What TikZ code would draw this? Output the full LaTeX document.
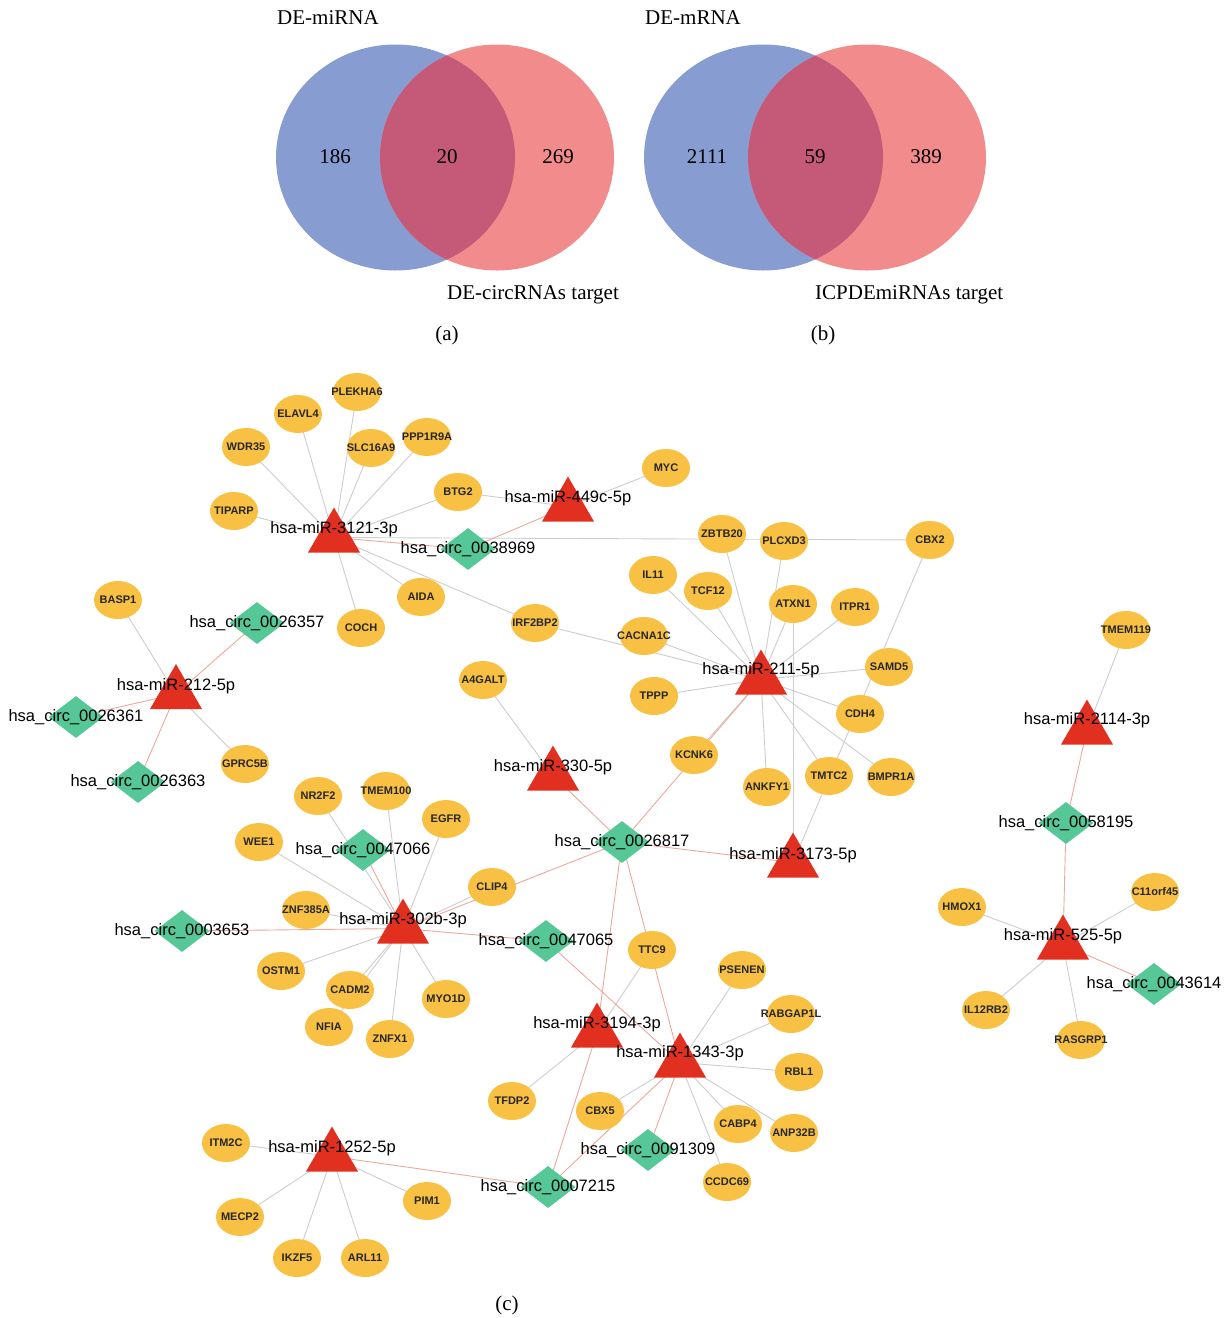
\documentclass[tikz,border=0pt]{standalone}
\usepackage{fontspec}
\setmainfont{Liberation Serif}
\setsansfont{Liberation Sans}
\usetikzlibrary{shapes.geometric,backgrounds}

\definecolor{vennblue}{RGB}{135,156,209}
\definecolor{vennred}{RGB}{242,139,139}
\definecolor{vennmix}{RGB}{196,89,120}
\definecolor{genefill}{RGB}{248,193,68}
\definecolor{circfill}{RGB}{86,199,150}
\definecolor{mirfill}{RGB}{226,48,32}
\definecolor{grayedge}{RGB}{205,205,205}
\definecolor{rededge}{RGB}{234,168,158}

\tikzset{
  genetext/.style={font=\sffamily\bfseries\fontsize{11}{12}\selectfont,
    text=black!85, inner sep=0pt},
  gene/.style={ellipse, fill=genefill, minimum width=48pt, minimum height=38pt,
    inner sep=0pt, label={[genetext]center:#1}},
  mirna/.style={regular polygon, regular polygon sides=3, fill=mirfill,
    minimum size=60pt, inner sep=0pt},
  circrna/.style={diamond, fill=circfill, minimum width=55pt, minimum height=42pt,
    inner sep=0pt},
  netlabel/.style={font=\sffamily\fontsize{16.5}{18}\selectfont, inner sep=0pt},
  tie/.style={draw=grayedge, line width=0.9pt},
  sponge/.style={draw=rededge, line width=0.9pt},
  venntext/.style={font=\fontsize{21}{24}\selectfont, inner sep=0pt}
}

\begin{document}
\begin{tikzpicture}[x=1pt, y=-1pt]
  \useasboundingbox (0,0) rectangle (1227,1318);

  % (a) and (b): Venn diagrams
  \fill[vennblue] (395.5,157.5) ellipse [x radius=119.5, y radius=113];
  \fill[vennred]  (497,157.5)   ellipse [x radius=117,   y radius=113];
  \begin{scope}
    \clip (395.5,157.5) ellipse [x radius=119.5, y radius=113];
    \fill[vennmix] (497,157.5) ellipse [x radius=117, y radius=113];
  \end{scope}
  \fill[vennblue] (763.5,157.5) ellipse [x radius=119.5, y radius=113];
  \fill[vennred]  (867,157.5)   ellipse [x radius=119,   y radius=113];
  \begin{scope}
    \clip (763.5,157.5) ellipse [x radius=119.5, y radius=113];
    \fill[vennmix] (867,157.5) ellipse [x radius=119, y radius=113];
  \end{scope}

  \node[venntext, anchor=west] (demirna) at (277,18)  {DE-miRNA};
  \node[venntext]              (a186)    at (335,157) {186};
  \node[venntext]              (a20)     at (447,157) {20};
  \node[venntext]              (a269)    at (558,157) {269};
  \node[venntext, anchor=west] (decirc)  at (447,295) {DE-circRNAs target};
  \node[venntext]              (capa)    at (447,335) {(a)};

  \node[venntext, anchor=west] (demrna)  at (645,18)  {DE-mRNA};
  \node[venntext]              (b2111)   at (707,157) {2111};
  \node[venntext]              (b59)     at (815,157) {59};
  \node[venntext]              (b389)    at (926,157) {389};
  \node[venntext, anchor=west] (icpde)   at (815,295) {ICPDEmiRNAs target};
  \node[venntext]              (capb)    at (823,335) {(b)};

  % (c): circRNA--miRNA--mRNA network
  % mRNAs
  \node[gene=PLEKHA6]  (plekha6)  at (357,392)  {};
  \node[gene=ELAVL4]   (elavl4)   at (298,414)  {};
  \node[gene=WDR35]    (wdr35)    at (246,447)  {};
  \node[gene=SLC16A9]  (slc16a9)  at (371,448)  {};
  \node[gene=PPP1R9A]  (ppp1r9a)  at (427,437)  {};
  \node[gene=TIPARP]   (tiparp)   at (234,511)  {};
  \node[gene=BTG2]     (btg2)     at (458,492)  {};
  \node[gene=MYC]      (myc)      at (666,468)  {};
  \node[gene=AIDA]     (aida)     at (421,597)  {};
  \node[gene=COCH]     (coch)     at (361,628)  {};
  \node[gene=IRF2BP2]  (irf2bp2)  at (535,623)  {};
  \node[gene=ZBTB20]   (zbtb20)   at (722,534)  {};
  \node[gene=PLCXD3]   (plcxd3)   at (784,541)  {};
  \node[gene=CBX2]     (cbx2)     at (930,540)  {};
  \node[gene=IL11]     (il11)     at (653,575)  {};
  \node[gene=TCF12]    (tcf12)    at (708,591)  {};
  \node[gene=ATXN1]    (atxn1)    at (793,604)  {};
  \node[gene=ITPR1]    (itpr1)    at (855,607)  {};
  \node[gene=CACNA1C]  (cacna1c)  at (644,636)  {};
  \node[gene=SAMD5]    (samd5)    at (889,667)  {};
  \node[gene=TPPP]     (tppp)     at (654,696)  {};
  \node[gene=CDH4]     (cdh4)     at (860,714)  {};
  \node[gene=KCNK6]    (kcnk6)    at (694,755)  {};
  \node[gene=ANKFY1]   (ankfy1)   at (767,787)  {};
  \node[gene=TMTC2]    (tmtc2)    at (829,776)  {};
  \node[gene=BMPR1A]   (bmpr1a)   at (891,777)  {};
  \node[gene=A4GALT]   (a4galt)   at (483,680)  {};
  \node[gene=BASP1]    (basp1)    at (118,600)  {};
  \node[gene=GPRC5B]   (gprc5b)   at (245,764)  {};
  \node[gene=TMEM119]  (tmem119)  at (1126,630) {};
  \node[gene=NR2F2]    (nr2f2)    at (318,796)  {};
  \node[gene=TMEM100]  (tmem100)  at (386,791)  {};
  \node[gene=EGFR]     (egfr)     at (446,819)  {};
  \node[gene=WEE1]     (wee1)     at (259,842)  {};
  \node[gene=CLIP4]    (clip4)    at (492,887)  {};
  \node[gene=ZNF385A]  (znf385a)  at (306,910)  {};
  \node[gene=OSTM1]    (ostm1)    at (281,971)  {};
  \node[gene=CADM2]    (cadm2)    at (350,990)  {};
  \node[gene=NFIA]     (nfia)     at (329,1027) {};
  \node[gene=ZNFX1]    (znfx1)    at (390,1039) {};
  \node[gene=MYO1D]    (myo1d)    at (446,999)  {};
  \node[gene=TTC9]     (ttc9)     at (652,950)  {};
  \node[gene=PSENEN]   (psenen)   at (742,970)  {};
  \node[gene=RABGAP1L] (rabgap1l) at (791,1014) {};
  \node[gene=RBL1]     (rbl1)     at (799,1072) {};
  \node[gene=TFDP2]    (tfdp2)    at (512,1101) {};
  \node[gene=CBX5]     (cbx5)     at (600,1111) {};
  \node[gene=CABP4]    (cabp4)    at (738,1124) {};
  \node[gene=ANP32B]   (anp32b)   at (794,1133) {};
  \node[gene=CCDC69]   (ccdc69)   at (727,1182) {};
  \node[gene=ITM2C]    (itm2c)    at (226,1143) {};
  \node[gene=MECP2]    (mecp2)    at (240,1217) {};
  \node[gene=IKZF5]    (ikzf5)    at (297,1258) {};
  \node[gene=ARL11]    (arl11)    at (365,1258) {};
  \node[gene=PIM1]     (pim1)     at (427,1201) {};
  \node[gene=HMOX1]    (hmox1)    at (962,907)  {};
  \node[gene=C11orf45] (c11orf45) at (1155,892) {};
  \node[gene=IL12RB2]  (il12rb2)  at (986,1010) {};
  \node[gene=RASGRP1]  (rasgrp1)  at (1081,1040) {};

  % circRNAs
  \node[circrna, label={[netlabel]center:hsa\_circ\_0038969}] (c0038969) at (468,549)  {};
  \node[circrna, label={[netlabel]center:hsa\_circ\_0026357}] (c0026357) at (257,623)  {};
  \node[circrna, label={[netlabel]center:hsa\_circ\_0026361}] (c0026361) at (76,717)   {};
  \node[circrna, label={[netlabel]center:hsa\_circ\_0026363}] (c0026363) at (138,782)  {};
  \node[circrna, label={[netlabel]center:hsa\_circ\_0047066}] (c0047066) at (363,850)  {};
  \node[circrna, label={[netlabel]center:hsa\_circ\_0026817}] (c0026817) at (622,842)  {};
  \node[circrna, label={[netlabel]center:hsa\_circ\_0003653}] (c0003653) at (182,931)  {};
  \node[circrna, label={[netlabel]center:hsa\_circ\_0047065}] (c0047065) at (546,941)  {};
  \node[circrna, label={[netlabel]center:hsa\_circ\_0058195}] (c0058195) at (1066,823) {};
  \node[circrna, label={[netlabel]center:hsa\_circ\_0043614}] (c0043614) at (1154,984) {};
  \node[circrna, label={[netlabel]center:hsa\_circ\_0091309}] (c0091309) at (648,1150) {};
  \node[circrna, label={[netlabel]center:hsa\_circ\_0007215}] (c0007215) at (548,1187) {};

  % miRNAs (node centre sits 7.5 below the middle of the triangle)
  \node[mirna, label={[netlabel, yshift=8.5pt]center:hsa-miR-3121-3p}] (m3121) at (334,537.5)  {};
  \node[mirna, label={[netlabel, yshift=8.5pt]center:hsa-miR-449c-5p}] (m449c) at (568,506.5)  {};
  \node[mirna, label={[netlabel, yshift=9pt]center:hsa-miR-211-5p}]    (m211)  at (761,679.5)  {};
  \node[mirna, label={[netlabel, yshift=8pt]center:hsa-miR-212-5p}]    (m212)  at (176,694)    {};
  \node[mirna, label={[netlabel, yshift=8.5pt]center:hsa-miR-330-5p}]  (m330)  at (553,775.5)  {};
  \node[mirna, label={[netlabel, yshift=9pt]center:hsa-miR-2114-3p}]   (m2114) at (1087,729.5) {};
  \node[mirna, label={[netlabel, yshift=7.5pt]center:hsa-miR-3173-5p}] (m3173) at (793,862.5)  {};
  \node[mirna, label={[netlabel, yshift=8.5pt]center:hsa-miR-302b-3p}] (m302b) at (403,928.5)  {};
  \node[mirna, label={[netlabel, yshift=8.5pt]center:hsa-miR-3194-3p}] (m3194) at (597,1032.5) {};
  \node[mirna, label={[netlabel, yshift=9.5pt]center:hsa-miR-1343-3p}] (m1343) at (680,1062.5) {};
  \node[mirna, label={[netlabel, yshift=8.5pt]center:hsa-miR-1252-5p}] (m1252) at (332,1156.5) {};
  \node[mirna, label={[netlabel, yshift=8.5pt]center:hsa-miR-525-5p}]  (m525)  at (1063,944.5) {};

  \node (capc) at (507,1305) [venntext] {(c)};

  % edges, drawn behind the nodes
  \begin{scope}[on background layer]
    % miRNA -- mRNA
    \foreach \g in {wdr35,elavl4,plekha6,slc16a9,ppp1r9a,tiparp,btg2,aida,coch,irf2bp2,cbx2}
      \draw[tie] (m3121.center) -- (\g.center);
    \foreach \g in {myc,btg2}
      \draw[tie] (m449c.center) -- (\g.center);
    \foreach \g in {zbtb20,plcxd3,il11,tcf12,atxn1,itpr1,cacna1c,irf2bp2,samd5,tppp,cdh4,bmpr1a,tmtc2,ankfy1,kcnk6}
      \draw[tie] (m211.center) -- (\g.center);
    \foreach \g in {atxn1,cbx2}
      \draw[tie] (m3173.center) -- (\g.center);
    \draw[tie] (m330.center) -- (a4galt.center);
    \foreach \g in {basp1,gprc5b}
      \draw[tie] (m212.center) -- (\g.center);
    \draw[tie] (m2114.center) -- (tmem119.center);
    \foreach \g in {hmox1,c11orf45,il12rb2,rasgrp1}
      \draw[tie] (m525.center) -- (\g.center);
    \foreach \g in {nr2f2,tmem100,egfr,wee1,znf385a,ostm1,cadm2,nfia,znfx1,myo1d,clip4}
      \draw[tie] (m302b.center) -- (\g.center);
    \foreach \g in {ttc9,tfdp2}
      \draw[tie] (m3194.center) -- (\g.center);
    \foreach \g in {psenen,rabgap1l,rbl1,anp32b,cabp4,ccdc69,cbx5}
      \draw[tie] (m1343.center) -- (\g.center);
    \foreach \g in {itm2c,mecp2,ikzf5,arl11,pim1}
      \draw[tie] (m1252.center) -- (\g.center);

    % circRNA -- miRNA
    \draw[sponge] (m3121.center) -- (c0038969.center) -- (m449c.center);
    \foreach \c in {c0026357,c0026361,c0026363}
      \draw[sponge] (m212.center) -- (\c.center);
    \foreach \m in {m330,m211,m302b,m3194,m1343,m3173}
      \draw[sponge] (c0026817.center) -- (\m.center);
    \foreach \c in {c0047066,c0003653,c0047065}
      \draw[sponge] (m302b.center) -- (\c.center);
    \draw[sponge] (c0047065.center) -- (m1343.center);
    \foreach \m in {m3194,m1343,m1252}
      \draw[sponge] (c0007215.center) -- (\m.center);
    \draw[sponge] (m1343.center) -- (c0091309.center);
    \draw[sponge] (m2114.center) -- (c0058195.center) -- (m525.center);
    \draw[sponge] (m525.center) -- (c0043614.center);
  \end{scope}
\end{tikzpicture}
\end{document}
